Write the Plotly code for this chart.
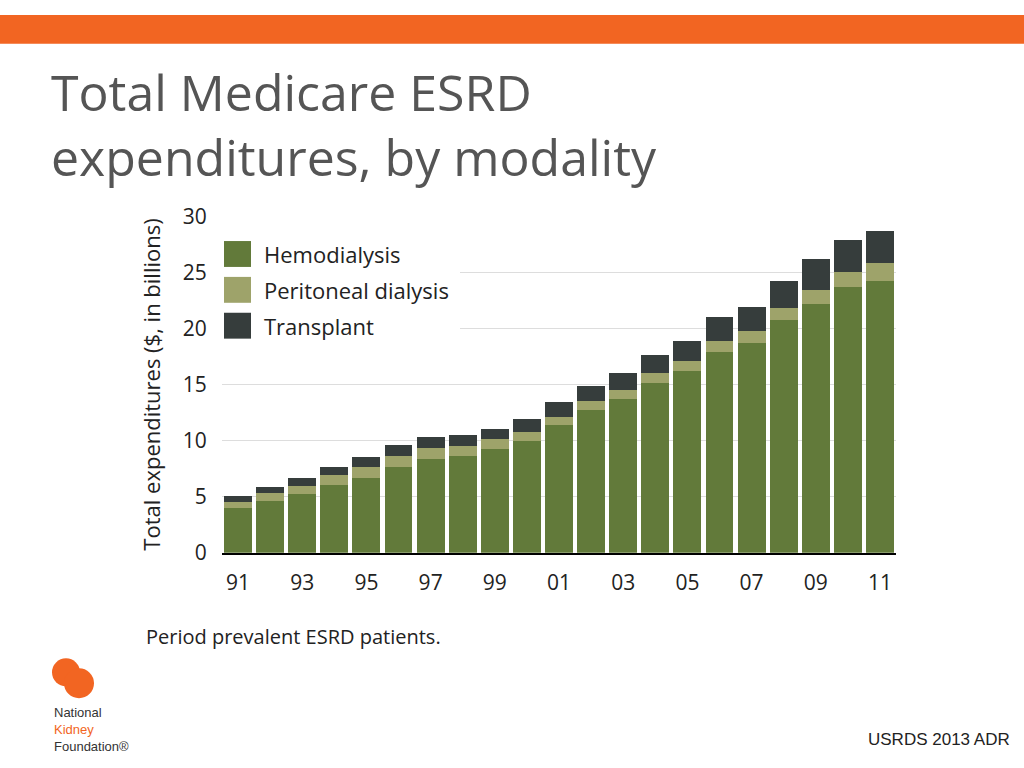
import plotly.graph_objects as go

years = ["91","92","93","94","95","96","97","98","99","00","01","02","03","04","05","06","07","08","09","10","11"]
tick_years = ["91","93","95","97","99","01","03","05","07","09","11"]
hemo = [3.95,4.65,5.2,6.0,6.7,7.65,8.35,8.65,9.25,10.0,11.35,12.7,13.7,15.1,16.2,17.85,18.7,20.7,22.2,23.7,24.25]
pd_ = [0.55,0.65,0.75,0.9,0.95,1.0,0.95,0.9,0.85,0.8,0.75,0.85,0.85,0.9,0.85,1.05,1.05,1.15,1.25,1.3,1.55]
tx = [0.55,0.6,0.75,0.75,0.85,0.95,1.0,0.95,0.9,1.1,1.3,1.35,1.45,1.65,1.85,2.1,2.15,2.4,2.75,2.85,2.9]
names = ["Hemodialysis","Peritoneal dialysis","Transplant"]
colors = ["#627a3a","#9ea36a","#363d3c"]

fig = go.Figure()
for n, v, c in zip(names, [hemo, pd_, tx], colors):
    fig.add_trace(go.Bar(x=years, y=v, name=n, marker_color=c, marker_line_width=0, showlegend=False))

W, H = 1024, 768
px = lambda x: x / W
py = lambda y: min(1.0, 1 - (y / 0.9675 - 14.5) / H)
fig.update_layout(
    width=W, height=H, barmode="stack", bargap=0.13,
    paper_bgcolor="white", plot_bgcolor="white",
    margin=dict(l=0, r=0, t=0, b=0),
    font=dict(family="Open Sans", color="#222"),
    xaxis=dict(domain=[px(222), px(896)], tickmode="array", tickvals=tick_years, ticktext=tick_years,
               tickfont=dict(size=21, color="#222"), showline=True, linecolor="black", linewidth=2,
               ticks="outside", ticklen=10, tickcolor="white", anchor="y"),
    yaxis=dict(domain=[py(554), py(216)], range=[0, 30], tickvals=[0,5,10,15,20,25,30],
               tickfont=dict(size=21, color="#222"), gridcolor="#dddddd", zeroline=False,
               ticks="outside", ticklen=10, tickcolor="white",
               title=dict(text="Total expenditures ($, in billions)", font=dict(size=22, color="#222"), standoff=16)),
)
fig.add_shape(type="rect", xref="paper", yref="paper", x0=0, x1=1, y0=py(43), y1=1, fillcolor="#f26522", line_width=0, layer="above")
fig.add_shape(type="rect", xref="paper", yref="paper", x0=px(222), x1=px(460), y0=py(345), y1=py(233), fillcolor="white", line_width=0, layer="above")
for i, (n, c) in enumerate(zip(names, colors)):
    yc = 254 + i * 36
    fig.add_shape(type="rect", xref="paper", yref="paper", x0=px(224), x1=px(251), y0=py(yc + 13), y1=py(yc - 13),
                  fillcolor=c, line_width=0, layer="above")
    fig.add_annotation(xref="paper", yref="paper", x=px(262), y=py(yc), text=n, showarrow=False,
                       xanchor="left", yanchor="middle", font=dict(size=22, color="#222"))
fig.add_annotation(xref="paper", yref="paper", x=px(49), y=py(124), text="Total Medicare ESRD<br>expenditures, by modality",
                   showarrow=False, align="left", xanchor="left", yanchor="middle",
                   font=dict(size=50, color="#555555"))
fig.add_annotation(xref="paper", yref="paper", x=px(144), y=py(638), text="Period prevalent ESRD patients.", showarrow=False,
                   xanchor="left", yanchor="middle", font=dict(size=20, color="#222"))
fig.add_annotation(xref="paper", yref="paper", x=px(1012), y=py(742), text="USRDS 2013 ADR", showarrow=False,
                   xanchor="right", yanchor="middle", font=dict(size=17, color="#222", family="Liberation Sans"))
fig.add_shape(type="circle", xref="paper", yref="paper", x0=px(52), x1=px(80), y0=py(688), y1=py(660), fillcolor="#f26522", line_width=0)
fig.add_shape(type="circle", xref="paper", yref="paper", x0=px(64), x1=px(94), y0=py(700), y1=py(670), fillcolor="#f26522", line_width=0)
fig.add_annotation(xref="paper", yref="paper", x=px(52), y=py(731),
                   text="National<br><span style='color:#f26522'>Kidney</span><br>Foundation®", showarrow=False,
                   align="left", xanchor="left", yanchor="middle",
                   font=dict(size=13, color="#333", family="Liberation Sans"))
fig.write_html("out.html", config={"displayModeBar": False},
               post_script="document.body.style.margin='0';document.body.style.overflow='hidden';")
